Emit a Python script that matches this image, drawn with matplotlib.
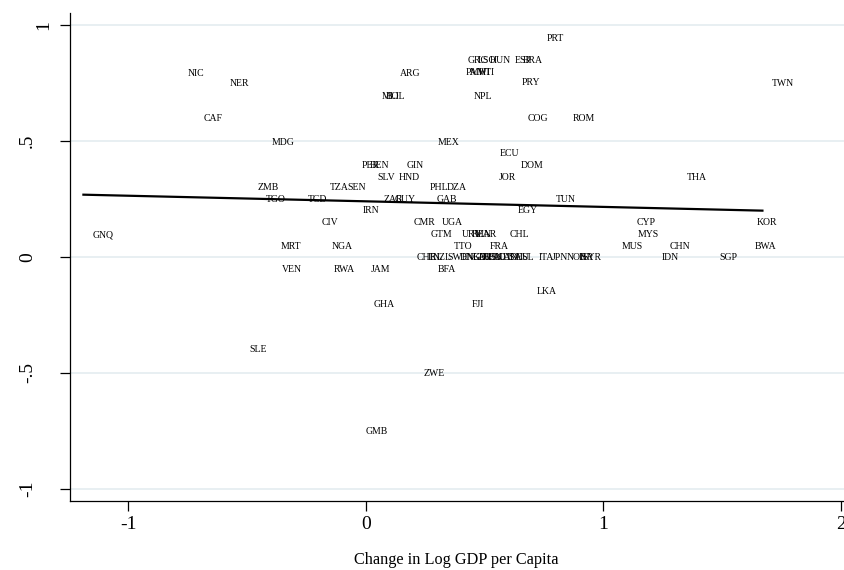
import matplotlib
matplotlib.use("Agg")
import matplotlib.pyplot as plt
import matplotlib.transforms as mtransforms
import numpy as np

countries = ["PRT","GRC","LSO","HUN","ESP","BRA","PAN","MWI","HTI","ARG","PRY","NIC","NER","TWN",
             "MLI","BOL","NPL","CAF","COG","ROM","MDG","MEX","ECU","PER","BEN","GIN","DOM",
             "SLV","HND","JOR","THA","ZMB","TZA","SEN","PHL","DZA","TGO","TCD","ZAR","GUY","GAB","TUN",
             "IRN","EGY","CIV","CMR","UGA","CYP","KOR","GNQ","GTM","URY","KEN","MAR","CHL","MYS",
             "MRT","NGA","TTO","FRA","MUS","CHN","BWA",
             "CHE","IRL","NZL","SWE","DNK","NLD","GBR","AUS","BEL","FIN","AUT","CAN","USA","DEU","ISL","ITA","JPN","NOR","ISR","SYR",
             "IDN","SGP","VEN","RWA","JAM","BFA","LKA","GHA","FJI","SLE","ZWE","GMB"]
gdp_change = [0.723,0.390,0.432,0.483,0.588,0.622,0.382,0.399,0.436,0.104,0.618,-0.789,-0.612,1.670,
              0.028,0.045,0.416,-0.721,0.643,0.832,-0.435,0.264,0.525,-0.056,-0.022,0.133,0.613,
              0.011,0.100,0.521,1.312,-0.494,-0.191,-0.115,0.230,0.302,-0.460,-0.283,0.037,0.083,0.260,0.761,
              -0.052,0.601,-0.224,0.163,0.281,1.102,1.607,-1.189,0.234,0.365,0.407,0.420,0.567,1.106,
              -0.397,-0.182,0.331,0.483,1.039,1.241,1.599,
              0.176,0.222,0.243,0.306,0.357,0.386,0.411,0.432,0.453,0.475,0.496,0.517,0.538,0.567,0.609,0.689,0.744,0.807,0.857,0.874,
              1.207,1.451,-0.393,-0.174,-0.018,0.264,0.681,-0.005,0.407,-0.527,0.205,-0.039]
y_change = [0.945,0.846,0.846,0.846,0.846,0.846,0.798,0.798,0.798,0.794,0.751,0.794,0.747,0.747,
            0.691,0.691,0.691,0.596,0.596,0.596,0.496,0.496,0.445,0.397,0.397,0.397,0.397,
            0.345,0.345,0.345,0.345,0.298,0.298,0.298,0.298,0.298,0.246,0.246,0.246,0.246,0.246,0.246,
            0.199,0.199,0.147,0.147,0.147,0.147,0.147,0.095,0.095,0.095,0.095,0.095,0.095,0.095,
            0.047,0.047,0.047,0.047,0.047,0.047,0.047,
            0.0,0.0,0.0,0.0,0.0,0.0,0.0,0.0,0.0,0.0,0.0,0.0,0.0,0.0,0.0,0.0,0.0,0.0,0.0,0.0,
            -0.004,-0.004,-0.052,-0.052,-0.052,-0.052,-0.151,-0.203,-0.203,-0.401,-0.501,-0.751]

fit_intercept = 0.2403
fit_slope = -0.0241

xticks = [-1, 0, 1, 2]
xtick_labels = ["-1", "0", "1", "2"]
yticks = [-1, -0.5, 0, 0.5, 1]
ytick_labels = ["-1", "-.5", "0", ".5", "1"]

plt.rcParams['font.family'] = ['Liberation Serif', 'DejaVu Serif']

fig = plt.figure(figsize=(8.44, 5.70), dpi=100)
ax = fig.add_axes([69.5/844, 1 - 501/570, 1 - 69.5/844, (501 - 13)/570])
ax.set_xlim(-1.2476, 2.0135)
ax.set_ylim(-1.053, 1.053)

for yv in yticks:
    ax.axhline(yv, color='#E6EEF1', lw=1.3, zorder=0)

for name, xv, yv in zip(countries, gdp_change, y_change):
    ax.annotate(name, (xv, yv), xytext=(6.6, 0), textcoords='offset points',
                ha='left', va='center', fontsize=7, color='black', zorder=3)

xs = np.array([min(gdp_change), max(gdp_change)])
ax.plot(xs, fit_intercept + fit_slope * xs, color='black', lw=1.6, zorder=4)

for s in ['top', 'right']:
    ax.spines[s].set_visible(False)
ax.spines['left'].set_color('black')
ax.spines['bottom'].set_color('black')
ax.spines['left'].set_linewidth(0.9)
ax.spines['bottom'].set_linewidth(0.9)

ax.set_xticks(xticks)
ax.set_xticklabels(xtick_labels, fontsize=14)
ax.set_yticks(yticks)
ax.set_yticklabels(ytick_labels, fontsize=14, rotation=90, va='center')
ax.tick_params(axis='both', direction='out', length=7, width=0.9, color='black')
ax.tick_params(axis='x', pad=4)
ax.tick_params(axis='y', pad=17)

# the top label "1" sits closer to the axis in the reference
for lbl in ax.get_yticklabels():
    if lbl.get_text() == "1":
        lbl.set_transform(lbl.get_transform() +
                          mtransforms.ScaledTranslation(16/100, 0, fig.dpi_scale_trans))

fig.text(0.5 * (69.5 + 844) / 844, 1 - 560 / 570, "Change in Log GDP per Capita",
         ha='center', va='center', fontsize=11.7)

fig.savefig("out.png", dpi=100)
